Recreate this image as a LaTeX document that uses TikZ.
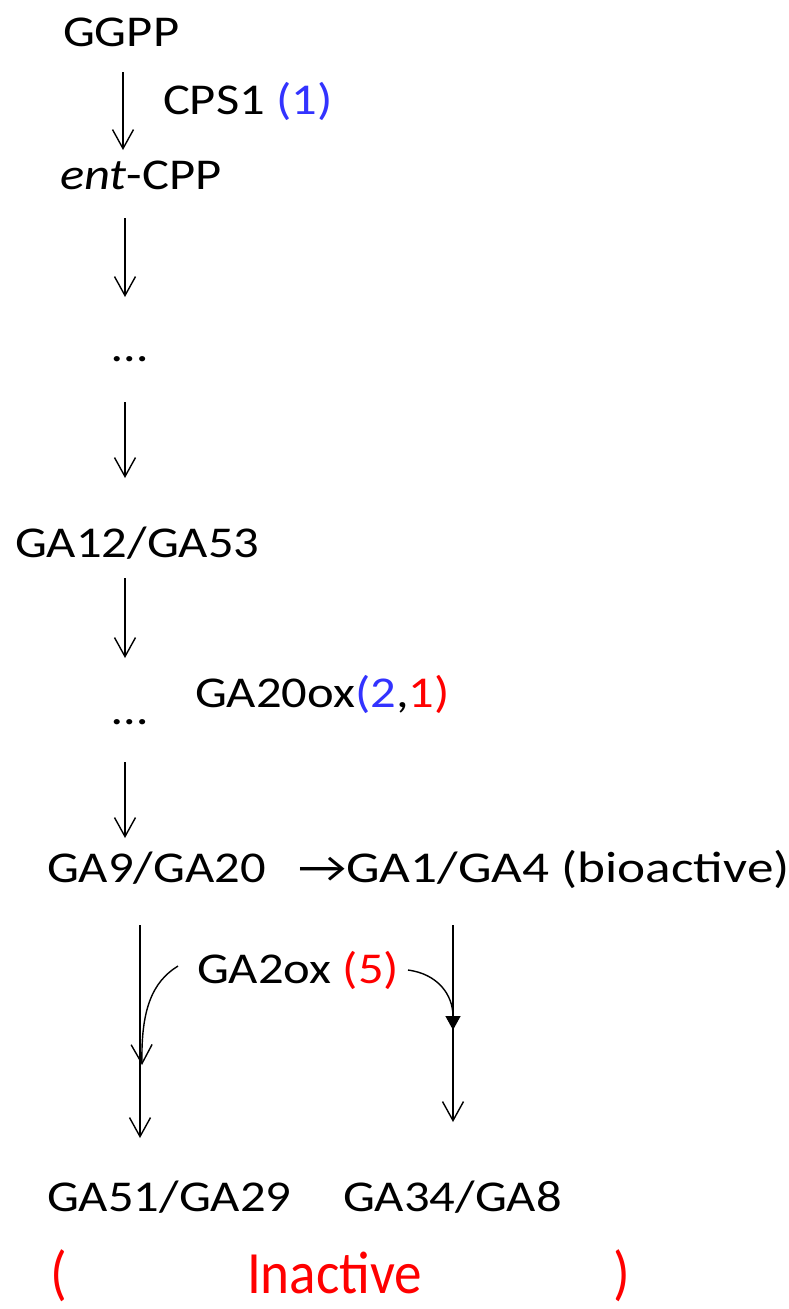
\documentclass[tikz,border=0pt]{standalone}
\usepackage{fontspec}
\setmainfont{Carlito}[FakeStretch=1.15]
\newfontfamily\redfont{Carlito}[FakeStretch=0.92]
\newfontfamily\widefont{Carlito}[FakeStretch=1.21]
\usetikzlibrary{arrows.meta}
\definecolor{refblue}{RGB}{51,51,255}
\definecolor{refred}{RGB}{255,0,0}
\tikzset{
  lbl/.style={anchor=base west, inner sep=0pt, outer sep=0pt,
    font=\fontsize{44}{48}\selectfont, text=black},
  redlbl/.style={lbl, text=refred, font=\redfont\fontsize{60}{64}\selectfont},
  flow/.style={line width=1.4pt, -{Straight Barb[length=19pt,width=21pt,line width=1.4pt]}},
  curveflow/.style={line width=1.4pt},
}
\begin{document}
\begin{tikzpicture}[x=1pt,y=1pt]
\useasboundingbox (0,0) rectangle (788,-1309);

% metabolites and enzymes
\node[lbl] (ggpp) at (63,-46) {GGPP};
\node[lbl] (cps) at (163,-114) {CPS1 \textcolor{refblue}{(1)}};
\node[lbl] (entcpp) at (60,-189) {\textit{ent}-CPP};
\node[lbl] (dotsa) at (112,-361) {…};
\node[lbl] (ga12) at (15,-557) {GA12/GA53};
\node[lbl] (dotsb) at (112,-724) {…};
\node[lbl] (ga20ox) at (195,-707) {GA20ox\textcolor{refblue}{(2}\textcolor{black}{,}\textcolor{refred}{1)}};
\node[lbl] (ga9) at (47,-882) {GA9/GA20};
\node[lbl, font=\widefont\fontsize{44}{48}\selectfont] (ga1) at (298,-882) {→GA1/GA4 (bioactive)};
\node[lbl] (ga2ox) at (197,-983) {GA2ox \textcolor{refred}{(5)}};
\node[lbl] (ga51) at (47,-1211) {GA51/GA29};
\node[lbl] (ga34) at (343,-1211) {GA34/GA8};
\node[redlbl] (lpar) at (50,-1293) {(};
\node[redlbl] (inactive) at (247,-1293) {Inactive};
\node[redlbl] (rpar) at (613,-1293) {)};

% arrow end points
\coordinate (a1s) at (123,-72);  \coordinate (a1e) at (123,-150);
\coordinate (a2s) at (125,-218); \coordinate (a2e) at (125,-297);
\coordinate (a3s) at (125,-402); \coordinate (a3e) at (125,-478);
\coordinate (a4s) at (125,-578); \coordinate (a4e) at (125,-658);
\coordinate (a5s) at (125,-762); \coordinate (a5e) at (125,-838);
\coordinate (lds) at (140,-925); \coordinate (lde) at (140,-1138);
\coordinate (rds) at (453,-925); \coordinate (rde) at (453,-1122);
\coordinate (lcs) at (178,-966); \coordinate (lce) at (142,-1065);
\coordinate (rcs) at (408,-970); \coordinate (rce) at (453,-1030);

\draw[flow] (a1s) -- (a1e);
\draw[flow] (a2s) -- (a2e);
\draw[flow] (a3s) -- (a3e);
\draw[flow] (a4s) -- (a4e);
\draw[flow] (a5s) -- (a5e);
\draw[flow] (lds) -- (lde);
\draw[flow] (rds) -- (rde);

% GA2ox acting on both branches
\draw[flow] (lcs) .. controls (152,-982) and (141,-1010) .. (lce);
\draw[curveflow, -{Triangle[length=14pt,width=15pt]}] (rcs) .. controls (438,-974) and (453,-995) .. (rce);
\end{tikzpicture}
\end{document}
